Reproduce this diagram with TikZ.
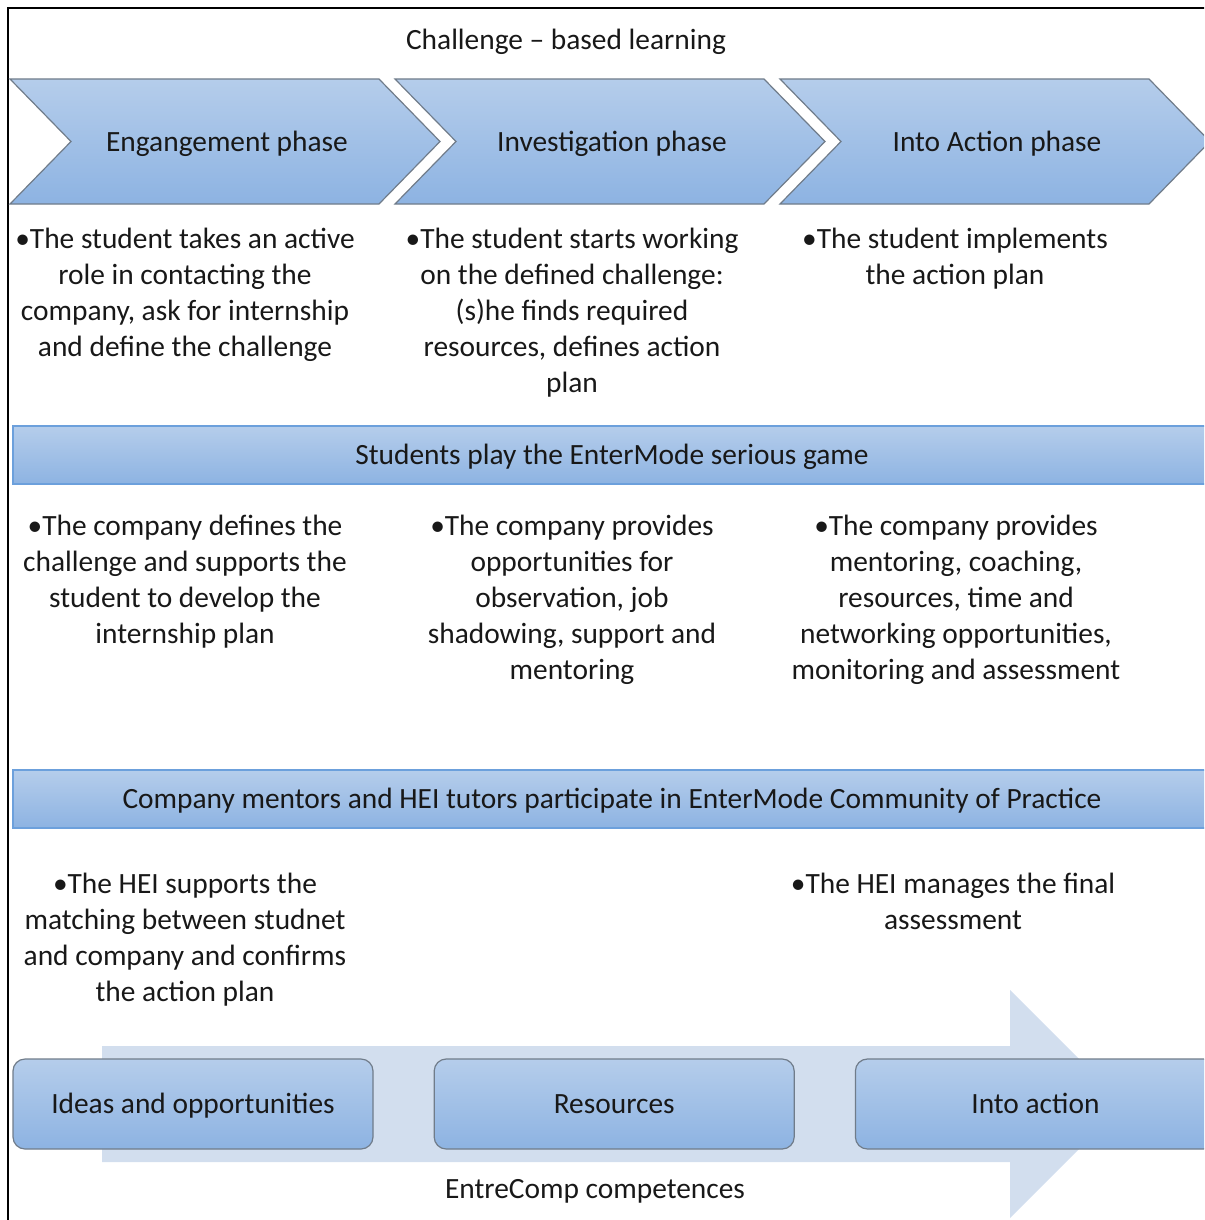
\documentclass[tikz,border=0pt]{standalone}
\usepackage{fontspec}
\setmainfont{Carlito}
\usetikzlibrary{positioning}
\definecolor{phasetop}{RGB}{181,205,235}
\definecolor{phasebot}{RGB}{141,179,226}
\definecolor{phaseline}{RGB}{112,124,138}
\definecolor{bandline}{RGB}{108,160,220}
\definecolor{arrowfill}{RGB}{210,222,238}
\definecolor{inktext}{RGB}{24,24,24}
\newcommand\bodyfont{\fontsize{14.7}{18}\selectfont}

\tikzset{
  phase/.style={draw=phaseline, line width=0.6pt, top color=phasetop, bottom color=phasebot},
  band/.style={draw=bandline, line width=0.8pt, top color=phasetop, bottom color=phasebot,
               minimum width=599pt, minimum height=29pt, inner sep=0pt,
               text height=11.5pt, text depth=2.5pt},
  compbox/.style={draw=phaseline, line width=0.6pt, rounded corners=6pt,
                  top color=phasetop, bottom color=phasebot,
                  minimum width=180pt, minimum height=45pt, inner sep=0pt,
                  text height=11.5pt, text depth=2.5pt},
  % multi-line text sits on the baseline of its last line
  body/.style={align=center, anchor=base, inner sep=0pt}
}

\begin{document}
\begin{tikzpicture}[x=0.5pt, y=-0.5pt, font=\bodyfont, text=inktext]
  \useasboundingbox (0,0) rectangle (1204,1220);
  \clip (0,0) rectangle (1204,1220);
  % outer frame, right and bottom sides run off the page
  \draw[line width=1pt] (8,1240) -- (8,8) -- (1230,8);

  \node[anchor=base] (title) at (566,50) {Challenge – based learning};

  % Phase chevrons
  \foreach \x/\n/\t in {10/engage/Engangement phase,395/investigate/Investigation phase,780/intoact/Into Action phase} {
    \path[phase] (\x,79) -- ++(369,0) -- ++(61,62.5) -- ++(-61,62.5) -- ++(-369,0) -- ++(61,-62.5) -- cycle;
    \node[anchor=base] (\n) at (\x+217,151) {\t};
  }

  % What the student does
  \node[body] (stud1) at (185,356) {•The student takes an active\\role in contacting the\\company, ask for internship\\and define the challenge};
  \node[body] (stud2) at (572,392) {•The student starts working\\on the defined challenge:\\(s)he finds required\\resources, defines action\\plan};
  \node[body] (stud3) at (955,284) {•The student implements\\the action plan};

  \node[band] (game) at (612,455) {Students play the EnterMode serious game};

  % What the company does
  \node[body] (comp1) at (185,643) {•The company defines the\\challenge and supports the\\student to develop the\\internship plan};
  \node[body] (comp2) at (572,679) {•The company provides\\opportunities for\\observation, job\\shadowing, support and\\mentoring};
  \node[body] (comp3) at (956,679) {•The company provides\\mentoring, coaching,\\resources, time and\\networking opportunities,\\monitoring and assessment};

  \node[band] (practice) at (612,799) {Company mentors and HEI tutors participate in EnterMode Community of Practice};

  % What the HEI does
  \node[body] (hei1) at (185,1001) {•The HEI supports the\\matching between studnet\\and company and confirms\\the action plan};
  \node[body] (hei3) at (953,929) {•The HEI manages the final\\assessment};

  % EntreComp arrow with the three areas
  \fill[arrowfill] (102,1046) -- (1010,1046) -- (1010,990) -- (1124,1104) -- (1010,1218)
    -- (1010,1162) -- (102,1162) -- cycle;
  \node[compbox] (ideas) at (193,1104) {Ideas and opportunities};
  \node[compbox, right=30pt of ideas] (resources) {Resources};
  \node[compbox, right=30pt of resources] (intoaction) {Into action};

  \node[anchor=base] (entrecomp) at (595,1198) {EntreComp competences};
\end{tikzpicture}
\end{document}
